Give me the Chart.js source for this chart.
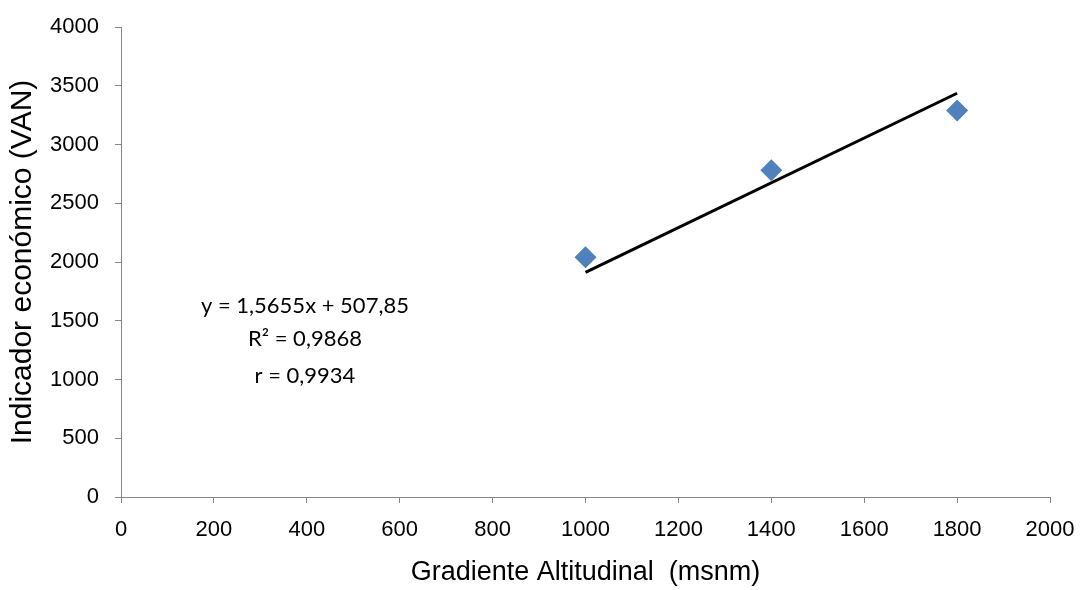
<!DOCTYPE html>
<html>
<head>
<meta charset="utf-8">
<script src="https://cdn.jsdelivr.net/npm/chart.js@4/dist/chart.umd.min.js"></script>
<style>
  html, body { margin: 0; padding: 0; background: #fff; }
  #wrap { width: 1082px; height: 590px; }
</style>
</head>
<body>
<div id="wrap"><canvas id="grafico"></canvas></div>
<script>
// datos
const altitudes = [1000, 1400, 1800];
const valoresVAN = [2040, 2780, 3290];
// linea de tendencia tal como aparece dibujada
const tendenciaX = [1000, 1800];
const tendenciaY = [1912, 3436];
const ecuacion = ["y = 1,5655x + 507,85", "R² = 0,9868", "r = 0,9934"];

const puntos = altitudes.map((x, i) => ({ x: x, y: valoresVAN[i] }));
const tendencia = tendenciaX.map((x, i) => ({ x: x, y: tendenciaY[i] }));

// texto de la ecuacion
const textoEcuacion = {
  id: "textoEcuacion",
  afterDatasetsDraw(chart) {
    const ctx = chart.ctx;
    const sx = chart.scales.x, sy = chart.scales.y;
    ctx.save();
    ctx.font = "22px Lato, 'Open Sans', sans-serif";
    ctx.fillStyle = "#000";
    ctx.textAlign = "center";
    ctx.textBaseline = "middle";
    const cx = sx.getPixelForValue(396);
    const ys = [1626, 1345, 1030];
    ecuacion.forEach((t, i) => ctx.fillText(t, cx, sy.getPixelForValue(ys[i])));
    ctx.restore();
  }
};

const gris = "#868686";
const fuente = "'Liberation Sans', Arial, sans-serif";

new Chart(document.getElementById("grafico"), {
  type: "scatter",
  data: {
    datasets: [{
      label: "VAN",
      data: puntos,
      pointStyle: "rectRot",
      pointRadius: 11,
      pointHoverRadius: 11,
      backgroundColor: "#4F81BD",
      borderColor: "#4F81BD",
      borderWidth: 0
    }, {
      label: "Lineal",
      data: tendencia,
      showLine: true,
      pointRadius: 0,
      borderColor: "#000",
      borderWidth: 3
    }]
  },
  options: {
    responsive: true,
    maintainAspectRatio: false,
    animation: false,
    layout: { padding: { top: 27, right: 32, left: 0, bottom: 0 } },
    plugins: {
      legend: { display: false },
      tooltip: { enabled: false }
    },
    scales: {
      x: {
        min: 0, max: 2000,
        ticks: { stepSize: 200, color: "#000", padding: 14,
                 callback: v => String(v),
                 font: { family: fuente, size: 22 } },
        grid: { drawOnChartArea: false, tickLength: 6, color: gris },
        border: { color: gris, width: 1 },
        title: { display: true, text: "Gradiente Altitudinal  (msnm)", color: "#000",
                 font: { family: fuente, size: 27 },
                 padding: { top: 4, bottom: 1 } },
        afterFit(s) { s.height = 93; s.paddingLeft = 0; s.paddingRight = 0; }
      },
      y: {
        min: 0, max: 4000,
        ticks: { stepSize: 500, color: "#000", padding: 16,
                 callback: v => String(v),
                 font: { family: fuente, size: 22 } },
        grid: { drawOnChartArea: false, tickLength: 6, color: gris },
        border: { color: gris, width: 1 },
        title: { display: true, text: "Indicador económico (VAN)", color: "#000",
                 font: { family: fuente, size: 30 },
                 padding: { top: 5, bottom: 0 } },
        afterFit(s) { s.width = 121; s.paddingTop = 0; s.paddingBottom = 0; }
      }
    }
  },
  plugins: [textoEcuacion]
});
</script>
</body>
</html>
